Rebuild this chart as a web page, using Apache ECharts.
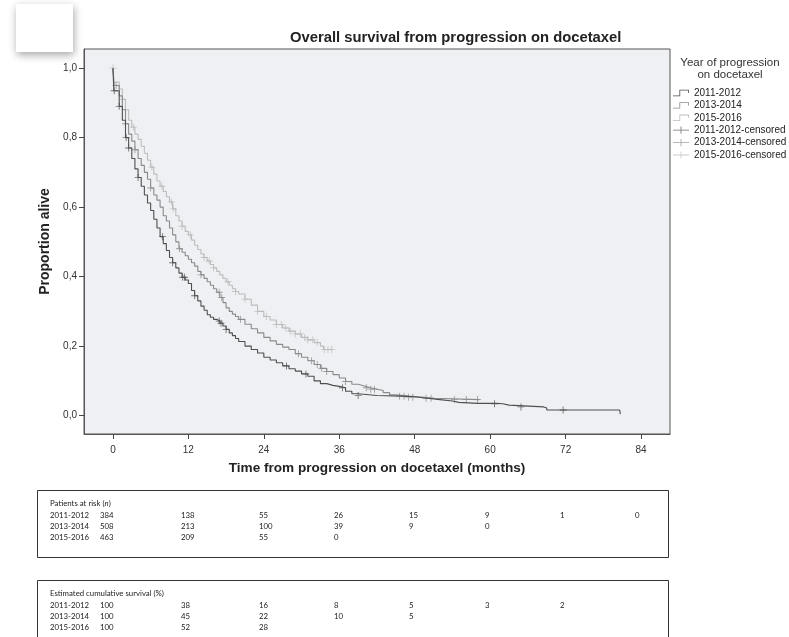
<!DOCTYPE html>
<html><head><meta charset="utf-8">
<script src="https://cdn.jsdelivr.net/npm/echarts@6/dist/echarts.min.js"></script>
<style>html,body{margin:0;padding:0;background:#fff}#c{width:789px;height:637px}</style>
</head><body><div id="c"></div>
<script>
// ---------- data ----------
const groupNames = ['2011-2012', '2013-2014', '2015-2016'];
const censNames = ['2011-2012-censored', '2013-2014-censored', '2015-2016-censored'];

const months2011 = [0,0.15,1,1.5,2,2.5,3,3.5,4,4.5,5,5.5,6,6.5,7,7.5,8,8.5,9,9.5,10,10.5,11,11.5,12,12.5,13,13.5,14,14.5,15,15.5,16,16.5,17,17.5,18,18.5,19,19.5,20,21,22,23,24,25,26,27,28,29,30,31,32,33,34,35,36,37,38,39,42,46,48,50,52,54,55,58,61,62,63,68.5,69,80.6,80.7];
const surv2011   = [1,0.935,0.89,0.85,0.80,0.77,0.74,0.71,0.685,0.66,0.635,0.612,0.59,0.565,0.54,0.515,0.495,0.475,0.455,0.44,0.425,0.41,0.398,0.39,0.38,0.36,0.345,0.33,0.315,0.303,0.29,0.283,0.277,0.272,0.266,0.258,0.248,0.238,0.23,0.222,0.213,0.2,0.19,0.18,0.168,0.16,0.152,0.143,0.135,0.128,0.12,0.113,0.1,0.092,0.087,0.084,0.08,0.07,0.063,0.058,0.056,0.054,0.05,0.046,0.042,0.038,0.035,0.035,0.034,0.03,0.025,0.022,0.016,0.016,0.004];

const months2013 = [0,0.2,1,1.5,2,2.5,3,3.5,4,4.5,5,5.5,6,6.5,7,7.5,8,8.5,9,9.5,10,10.5,11,11.5,12,12.5,13,13.5,14,14.5,15,15.5,16,16.5,17,17.5,18,18.5,19,19.5,20,21,22,23,24,25,26,27,28,29,30,31,32,33,34,35,36,37,38,39,40,41,42,43,44,45,47,49,51,58.3];
const surv2013   = [1,0.95,0.92,0.88,0.84,0.81,0.79,0.765,0.74,0.72,0.70,0.68,0.655,0.635,0.62,0.60,0.575,0.56,0.54,0.52,0.50,0.48,0.47,0.46,0.45,0.44,0.43,0.415,0.405,0.395,0.385,0.375,0.365,0.355,0.34,0.325,0.31,0.30,0.292,0.285,0.277,0.263,0.25,0.238,0.225,0.215,0.205,0.197,0.19,0.178,0.168,0.158,0.147,0.136,0.127,0.118,0.108,0.098,0.09,0.085,0.08,0.076,0.072,0.066,0.06,0.056,0.053,0.05,0.046,0.046];

const months2015 = [0,0.15,1,1.5,2,2.5,3,3.5,4,4.5,5,5.5,6,6.5,7,7.5,8,8.5,9,9.5,10,10.5,11,11.5,12,12.5,13,13.5,14,14.5,15,15.5,16,16.5,17,17.5,18,18.5,19,19.5,20,21,22,23,24,25,26,27,28,29,30,31,32,33,33.5,35];
const surv2015   = [1,0.96,0.94,0.91,0.88,0.85,0.83,0.81,0.795,0.775,0.755,0.735,0.715,0.695,0.675,0.66,0.645,0.63,0.615,0.595,0.575,0.56,0.545,0.53,0.52,0.505,0.49,0.478,0.465,0.455,0.445,0.435,0.425,0.415,0.405,0.395,0.385,0.375,0.365,0.357,0.35,0.335,0.318,0.30,0.285,0.275,0.262,0.252,0.243,0.235,0.225,0.218,0.21,0.20,0.19,0.19];

const censMonths2011 = [0.2,1.0,2.1,2.5,4.0,7.9,9.5,11.1,11.4,13.0,16.9,17.2,18.0,27.6,30.7,36.5,39.0,60.7,64.9,71.6];
const censSurv2011   = [0.935,0.89,0.80,0.77,0.685,0.515,0.44,0.398,0.398,0.345,0.272,0.266,0.248,0.143,0.12,0.08,0.058,0.034,0.025,0.016];

const censMonths2013 = [0.5,2.0,3.5,6.0,10.6,14.0,16.9,17.3,20.3,29.5,31.6,32.5,33.2,34.0,37.0,40.3,41.0,41.6,45.6,46.3,47.0,47.7,49.8,50.6,54.3,56.2,58.0];
const censSurv2013   = [0.95,0.84,0.765,0.655,0.48,0.405,0.355,0.34,0.277,0.178,0.158,0.147,0.136,0.127,0.098,0.08,0.076,0.076,0.056,0.056,0.053,0.053,0.05,0.05,0.046,0.046,0.046];

const censMonths2015 = [0,1.5,3.3,6.2,7.8,9.3,9.6,11.0,12.3,14.5,15.3,16.0,18.3,19.5,21.0,23.0,24.4,26.0,26.8,27.5,28.2,29.0,29.8,30.5,31.0,31.8,32.5,33.6,34.2,34.8];
const censSurv2015   = [1.0,0.91,0.83,0.715,0.66,0.615,0.595,0.545,0.52,0.455,0.445,0.425,0.385,0.357,0.335,0.30,0.285,0.262,0.262,0.252,0.243,0.235,0.235,0.225,0.218,0.218,0.21,0.19,0.19,0.19];

const xTicks = [0,12,24,36,48,60,72,84];
const yTicks = [0,0.2,0.4,0.6,0.8,1.0];

const riskRows = [
  ['2011-2012', 384, 138, 55, 26, 15, 9, 1, 0],
  ['2013-2014', 508, 213, 100, 39, 9, 0],
  ['2015-2016', 463, 209, 55, 0]
];
const survRows = [
  ['2011-2012', 100, 38, 16, 8, 5, 3, 2],
  ['2013-2014', 100, 45, 22, 10, 5],
  ['2015-2016', 100, 52, 28]
];

// ---------- chart ----------
const zip = (a, b) => a.map((v, i) => [v, b[i]]);
const lineColors = ['#4f4f4f', '#8a8a8a', '#bcbcbc'];
const stepIcon = 'path://M0,7h9v1h-9z M8,0h1v8h-1z M8,0h12v1h-12z M19,0h1v4h-1z';
const censIcon = 'path://M0,4h20v1h-20z M9.5,0h1v9h-1z';
const plusSym = 'path://M-0.5,-4h1v8h-1z M-4,-0.5h8v1h-8z';
const FONT = 'Liberation Sans';

const lineSeries = [[months2011, surv2011], [months2013, surv2013], [months2015, surv2015]].map((d, i) => ({
  type: 'line', name: groupNames[i], step: 'end', showSymbol: false, symbol: 'none',
  color: lineColors[i], lineStyle: { width: 1.1, color: lineColors[i] },
  data: zip(d[0], d[1]), z: 3 - i + 2, silent: true
}));
const censSeries = [[censMonths2011, censSurv2011], [censMonths2013, censSurv2013], [censMonths2015, censSurv2015]].map((d, i) => ({
  type: 'scatter', name: censNames[i], symbol: plusSym, symbolSize: 7,
  color: lineColors[i], itemStyle: { color: lineColors[i] },
  data: zip(d[0], d[1]), z: 3 - i + 2, silent: true
}));

// table graphics
const colX = [50, 100, 181, 259, 334, 409, 485, 560, 635];
const TFONT = 'Lato';
const TSIZE = 7.8;
function tableGraphics(top, headerRich, rows) {
  const g = [];
  g.push({ type: 'rect', shape: { x: 37.5, y: top + 0.5, width: 631, height: 67 }, style: { fill: 'none', stroke: '#333', lineWidth: 1 } });
  g.push({ type: 'text', x: 50, y: top + 13, style: { text: headerRich, rich: {
    a: { fontFamily: TFONT, fontSize: TSIZE, fill: '#222' }, i: { fontFamily: TFONT, fontSize: TSIZE, fontStyle: 'italic', fill: '#222' } },
    verticalAlign: 'middle' } });
  rows.forEach((r, ri) => {
    r.forEach((cell, ci) => {
      g.push({ type: 'text', x: colX[ci], y: top + 25.5 + ri * 11, style: { text: String(cell), fontFamily: TFONT, fontSize: TSIZE, fill: '#222', verticalAlign: 'middle' } });
    });
  });
  return g;
}

const graphics = [
  { type: 'rect', shape: { x: 16, y: 4, width: 57, height: 48 }, style: { fill: '#fff', shadowBlur: 8, shadowOffsetX: 1, shadowOffsetY: 3, shadowColor: 'rgba(0,0,0,0.35)' }, z: 1 },
  { type: 'text', x: 730, y: 57, style: { text: 'Year of progression\non docetaxel', fontFamily: FONT, fontSize: 11.5, lineHeight: 12, fill: '#333', align: 'center', verticalAlign: 'top' } }
].concat(
  tableGraphics(490, '{a|Patients at risk (}{i|n}{a|)}', riskRows),
  tableGraphics(580, '{a|Estimated cumulative survival (%)}', survRows)
);

const chart = echarts.init(document.getElementById('c'));
chart.setOption({
  animation: false,
  backgroundColor: '#fff',
  title: { text: 'Overall survival from progression on docetaxel', left: 285, top: 25,
    textStyle: { fontFamily: FONT, fontSize: 14.8, fontWeight: 'bold', color: '#222' } },
  grid: { left: 84, right: 119, top: 49, bottom: 203, show: true, backgroundColor: '#eff0f3', borderColor: '#555', borderWidth: 1 },
  xAxis: {
    type: 'value', min: -4.6, max: 88.6,
    name: 'Time from progression on docetaxel (months)', nameLocation: 'middle', nameGap: 27,
    nameTextStyle: { fontFamily: FONT, fontSize: 13.6, fontWeight: 'bold', color: '#222' },
    axisLine: { show: true, onZero: false, lineStyle: { color: '#555' } },
    axisTick: { show: true, length: 5, customValues: xTicks, lineStyle: { color: '#444' } },
    axisLabel: { customValues: xTicks, margin: 11, fontFamily: FONT, fontSize: 10, color: '#333' },
    splitLine: { show: false }
  },
  yAxis: {
    type: 'value', min: -0.053, max: 1.055,
    name: 'Proportion alive', nameLocation: 'middle', nameGap: 24,
    nameTextStyle: { fontFamily: FONT, fontSize: 14, fontWeight: 'bold', color: '#222' },
    axisLine: { show: true, onZero: false, lineStyle: { color: '#555' } },
    axisTick: { show: true, length: 5, customValues: yTicks, lineStyle: { color: '#444' } },
    axisLabel: { customValues: yTicks, margin: 7, fontFamily: FONT, fontSize: 10, color: '#333',
      formatter: v => v.toFixed(1).replace('.', ',') },
    splitLine: { show: false }
  },
  legend: {
    orient: 'vertical', left: 673, top: 87, padding: 0, itemWidth: 16, itemHeight: 8, itemGap: 0.4,
    selectedMode: false,
    textStyle: { fontFamily: FONT, fontSize: 10, lineHeight: 12, color: '#222' },
    data: groupNames.map(n => ({ name: n, icon: stepIcon })).concat(censNames.map(n => ({ name: n, icon: censIcon })))
  },
  graphic: graphics,
  series: lineSeries.concat(censSeries)
});
</script>
</body></html>
